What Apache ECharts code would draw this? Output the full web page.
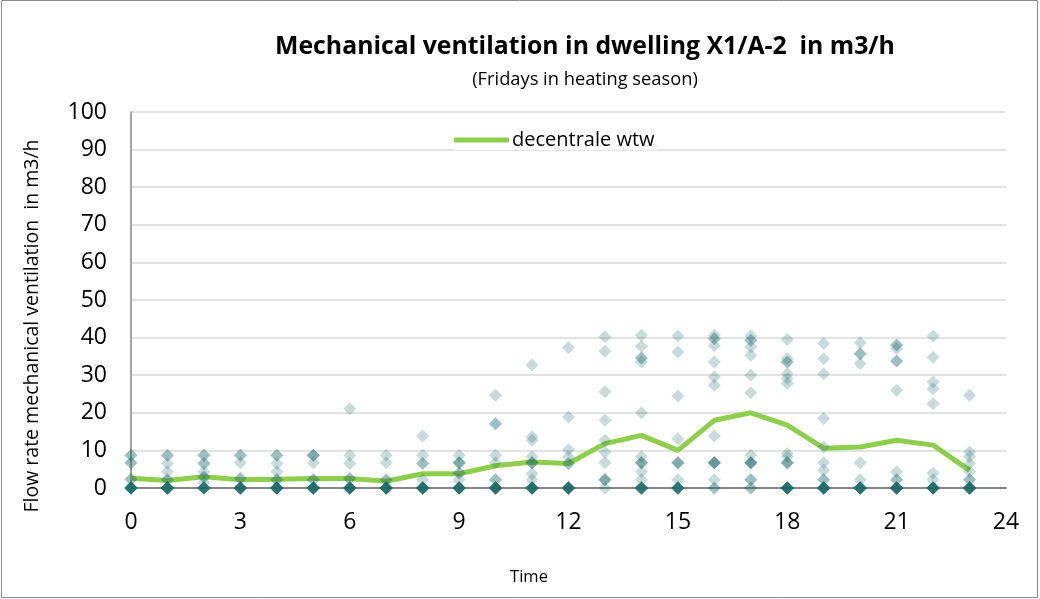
<!DOCTYPE html>
<html>
<head>
<meta charset="utf-8">
<script src="https://cdn.jsdelivr.net/npm/echarts@6/dist/echarts.min.js"></script>
<style>
  html, body { margin: 0; padding: 0; background: #fff; }
  #chart { width: 1040px; height: 599px; }
</style>
</head>
<body>
<div id="chart"></div>
<script>
// Hour of day (0..23)
const hours = [0, 1, 2, 3, 4, 5, 6, 7, 8, 9, 10, 11, 12, 13, 14, 15, 16, 17, 18, 19, 20, 21, 22, 23];

// Average flow rate per hour, decentrale wtw (m3/h)
const avgFlow = [2.6, 2.0, 3.0, 2.2, 2.3, 2.5, 2.5, 1.8, 3.8, 3.8, 5.9, 6.9, 6.5, 11.8, 14.0, 10.0, 18.0, 20.0, 16.7, 10.6, 10.9, 12.7, 11.4, 4.7];

// Individual Friday readings per hour as [flow, number of Fridays with that flow]
const fridayReadings = [
  [[8.7, 2], [6.7, 2], [2.3, 2], [0, 10]],
  [[8.7, 2], [6.5, 1], [4.3, 1], [2.2, 2], [0, 10]],
  [[8.7, 2], [6.5, 2], [4.3, 1], [2.9, 2], [1.3, 1], [0, 8]],
  [[8.7, 2], [6.7, 1], [2.5, 2], [0, 10]],
  [[8.7, 2], [6.5, 1], [4.3, 1], [2.2, 2], [0, 10]],
  [[8.7, 3], [6.7, 1], [2.2, 2], [0, 10]],
  [[21.1, 1], [8.7, 1], [6.5, 1], [2.5, 2], [0, 10]],
  [[8.7, 1], [6.7, 1], [2.2, 2], [0, 10]],
  [[13.8, 1], [8.7, 1], [6.5, 2], [2.2, 1], [0, 10]],
  [[8.7, 1], [6.7, 3], [4.0, 2], [2.2, 1], [0, 10]],
  [[24.7, 1], [17.1, 2], [8.7, 1], [6.7, 1], [2.2, 2], [0, 10]],
  [[32.7, 1], [13.6, 1], [12.7, 1], [8.3, 1], [6.7, 3], [3.8, 1], [2.2, 1], [0, 10]],
  [[37.4, 1], [18.9, 1], [10.2, 1], [8.3, 1], [6.5, 2], [0, 10]],
  [[40.2, 1], [36.4, 1], [25.6, 1], [18.0, 1], [12.7, 1], [9.6, 1], [6.7, 1], [2.2, 3], [0, 1]],
  [[40.6, 1], [37.7, 1], [34.6, 2], [33.5, 1], [20.0, 1], [8.3, 1], [6.7, 3], [4.3, 1], [2.2, 1], [0, 8]],
  [[40.4, 1], [36.2, 1], [24.5, 1], [13.1, 1], [6.7, 3], [2.2, 1], [0, 8]],
  [[40.6, 1], [39.7, 2], [37.9, 1], [33.5, 1], [29.5, 1], [27.3, 1], [13.8, 1], [6.7, 4], [2.2, 1], [0, 2]],
  [[40.4, 1], [39.3, 2], [37.5, 1], [35.3, 1], [30.0, 1], [25.3, 1], [8.7, 1], [6.7, 4], [2.2, 2], [0, 2]],
  [[39.5, 1], [34.4, 1], [33.5, 2], [30.4, 1], [29.1, 1], [27.8, 1], [9.1, 1], [8.3, 1], [6.7, 3], [0, 10]],
  [[38.4, 1], [34.4, 1], [30.4, 1], [18.5, 1], [10.9, 1], [6.7, 1], [4.7, 1], [2.2, 2], [0, 10]],
  [[38.6, 1], [35.7, 2], [33.1, 1], [6.7, 1], [2.2, 1], [0, 10]],
  [[38.0, 2], [37.1, 1], [33.8, 2], [26.0, 1], [4.3, 1], [2.2, 2], [0, 10]],
  [[40.4, 1], [34.8, 1], [28.2, 1], [26.4, 1], [22.4, 1], [4.0, 1], [2.2, 1], [0, 10]],
  [[24.7, 1], [9.6, 1], [8.3, 1], [6.5, 1], [4.3, 1], [2.2, 2], [0, 10]]
];

const yTicks = { min: 0, max: 100, interval: 10 };
const xTicks = { min: 0, max: 24, interval: 3 };

// One semi-transparent diamond per Friday, so overlapping days build up darker
const scatterPoints = [];
hours.forEach((h, i) => {
  fridayReadings[i].forEach(([v, n]) => {
    for (let k = 0; k < n; k++) scatterPoints.push([h, v]);
  });
});
const linePoints = hours.map((h, i) => [h, avgFlow[i]]);

const FONT = '"Open Sans", "Noto Sans", sans-serif';
const GREEN = '#8dcf4c';
const chart = echarts.init(document.getElementById('chart'), null, { renderer: 'canvas' });

chart.setOption({
  animation: false,
  backgroundColor: '#ffffff',
  textStyle: { fontFamily: FONT },
  graphic: [
    {
      type: 'rect',
      shape: { x: 1.5, y: 0.5, width: 1036, height: 597 },
      style: { fill: 'none', stroke: '#8c8c8c', lineWidth: 1 },
      silent: true
    },
    {
      // vertical axis title
      type: 'text',
      x: 32,
      y: 326,
      rotation: Math.PI / 2,
      style: {
        text: 'Flow rate mechanical ventilation  in m3/h',
        fontFamily: FONT,
        fontSize: 19.5,
        fill: '#000',
        align: 'center',
        verticalAlign: 'middle'
      },
      silent: true
    },
    {
      // horizontal axis title
      type: 'text',
      x: 529,
      y: 577,
      style: {
        text: 'Time',
        fontFamily: FONT,
        fontSize: 16.5,
        fill: '#000',
        align: 'center',
        verticalAlign: 'middle'
      },
      silent: true
    }
  ],
  title: [
    {
      text: 'Mechanical ventilation in dwelling X1/A-2  in m3/h',
      left: 580,
      top: 29,
      textAlign: 'center',
      textStyle: { fontFamily: FONT, fontSize: 24.8, fontWeight: 'bold', color: '#000' }
    },
    {
      text: '(Fridays in heating season)',
      left: 580,
      top: 66,
      textAlign: 'center',
      textStyle: { fontFamily: FONT, fontSize: 18.3, fontWeight: 'normal', color: '#000' }
    }
  ],
  legend: {
    data: [{ name: 'decentrale wtw', icon: 'roundRect' }],
    left: 454,
    top: 130,
    itemWidth: 55,
    itemHeight: 5,
    itemGap: 4,
    backgroundColor: '#ffffff',
    padding: [0, 4, 0, 0],
    itemStyle: { color: GREEN },
    textStyle: { fontFamily: FONT, fontSize: 20, color: '#000', padding: [0, 0, 0, -2] }
  },
  grid: { left: 131, right: 34, top: 112, bottom: 111 },
  xAxis: {
    type: 'value',
    min: xTicks.min,
    max: xTicks.max,
    interval: xTicks.interval,
    axisLine: { show: true, onZero: false, lineStyle: { color: '#868686', width: 2 } },
    axisTick: { show: false },
    splitLine: { show: false },
    axisLabel: { fontFamily: FONT, fontSize: 23, color: '#000', margin: 23 }
  },
  yAxis: {
    type: 'value',
    min: yTicks.min,
    max: yTicks.max,
    interval: yTicks.interval,
    axisLine: { show: true, lineStyle: { color: '#868686', width: 1.5 } },
    axisTick: { show: false },
    splitLine: { show: true, lineStyle: { color: '#d9d9d9', width: 1.5 } },
    axisLabel: { fontFamily: FONT, fontSize: 23, color: '#000', margin: 24 }
  },
  series: [
    {
      name: 'decentrale wtw',
      type: 'line',
      data: linePoints,
      symbol: 'none',
      lineStyle: { color: GREEN, width: 5 },
      itemStyle: { color: GREEN },
      z: 2
    },
    {
      name: 'Fridays',
      type: 'scatter',
      data: scatterPoints,
      symbol: 'diamond',
      symbolSize: 13,
      itemStyle: { color: '#186868', opacity: 0.24 },
      z: 3
    }
  ]
});
</script>
</body>
</html>
